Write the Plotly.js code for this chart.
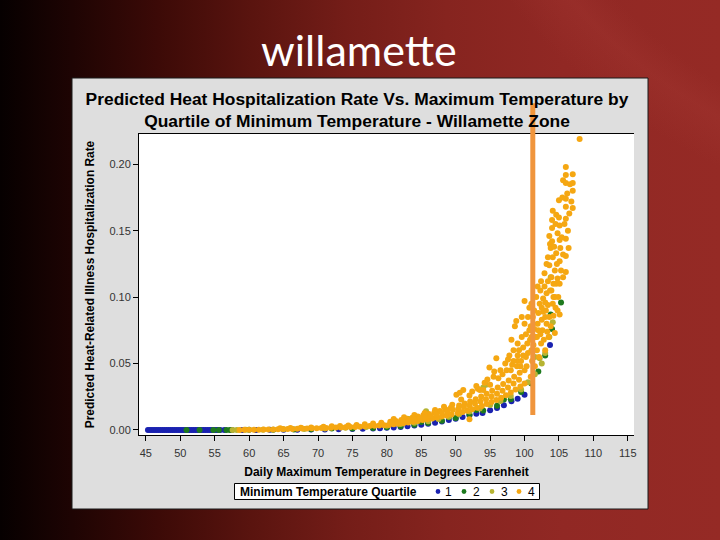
<!DOCTYPE html>
<html>
<head>
<meta charset="utf-8">
<script src="https://cdn.plot.ly/plotly-3.0.1.min.js"></script>
<style>
html,body{margin:0;padding:0;}
body{width:720px;height:540px;overflow:hidden;
background:
 radial-gradient(ellipse 900px 700px at 1050px -250px, rgba(150,42,38,0) 60%, rgba(170,60,55,0.25) 64%, rgba(150,42,38,0) 70%),
 linear-gradient(90deg,#060000 0%,#1e0403 10%,#3c0a07 22%,#5a140f 35%,#741d18 48%,#86241f 62%,#912824 78%,#952a25 100%);}
#chart{width:720px;height:540px;}
</style>
</head>
<body>
<div id="chart"></div>
<script>
// ---- data ----
const quartiles = ['1','2','3','4'];
const legendTitle = 'Minimum Temperature Quartile';

const q1Temp = [45.3,45.6,45.9,46.2,46.5,46.8,47.1,47.4,47.7,48.0,48.3,48.6,48.9,49.2,49.5,49.8,50.1,50.4,
  50.7,51.0,51.3,51.6,51.9,52.2,52.5,52.8,53.1,53.4,53.7,54.0,54.3,54.6,54.9,55.2,55.5,55.8,
  56.4,57.5,59.0,61.0,63.0,65.0,67.0,69.0,71.0,73.0,75.0,76.5,78.0,79.0,80.0,81.0,82.0,83.0,
  84.0,85.0,86.0,87.0,88.0,89.0,90.0,91.0,92.0,93.0,93.9,95.0,96.0,97.0,98.1,99.0,100.0,103.7];
const q1Rate = [0,0,0,0,0,0,0,0,0,0,0,0,0,0,0,0,0,0,
  0,0,0,0,0,0,0,0,0,0,0,0,0,0,0,0,0,0,
  0,0,0,0,0.0001,0.0001,0.0002,0.0003,0.0004,0.0005,0.0007,0.0009,0.0011,0.0013,0.0016,0.0019,0.0023,0.0028,
  0.0034,0.0040,0.0047,0.0055,0.0064,0.0074,0.0085,0.0097,0.0110,0.0122,0.0127,0.0148,0.0166,0.0186,0.0216,0.0235,0.0265,0.0640];

const q2Temp = [50.9,52.8,54.8,55.6,56.7,57.2,60.0,63.5,66.5,69.0,72.0,75.0,78.0,80.0,82.0,84.0,85.0,
  86.0,88.0,89.0,90.0,92.0,93.0,94.0,96.0,97.0,98.0,99.5,101.0,102.0,103.0,103.8,104.0,105.3];
const q2Rate = [0,0,0,0,0,0,0.0001,0.0002,0.0003,0.0005,0.0010,0.0010,0.0015,0.0020,0.0028,0.0040,0.0060,
  0.0053,0.0070,0.0095,0.0090,0.0116,0.0150,0.0146,0.0182,0.0230,0.0232,0.0285,0.0350,0.0440,0.0560,0.0870,0.0760,0.0960];

const q3Temp = [57.6,58.2,59.5,62.0,65.0,68.0,71.0,74.0,77.0,80.0,82.0,83.0,83.3,84.0,85.7,86.0,87.5,89.0,
  90.5,92.0,93.5,94.0,94.4,95.0,96.5,98.0,99.5,100.5,101.5,101.5,102.2,102.5,103.0,103.6,103.8,104.1];
const q3Rate = [0,0,0.0001,0.0002,0.0005,0.0007,0.0011,0.0016,0.0023,0.0032,0.0044,0.0085,0.0080,0.0054,0.0140,0.0066,0.0082,0.0100,
  0.0118,0.0138,0.0162,0.0320,0.0340,0.0188,0.0218,0.0255,0.0305,0.0360,0.0550,0.0420,0.0540,0.0500,0.0580,0.0700,0.1150,0.0810];

const q4Temp = [58.6,59.3,60.0,60.7,61.4,62.1,62.8,63.5,64.2,64.9,65.6,66.3,67.0,67.7,68.4,69.1,69.8,
  64.5,66.0,67.5,69.0,
  70.5,71.2,71.9,72.6,73.3,74.0,74.7,75.4,76.1,76.8,77.5,78.2,78.9,79.6,
  70.8,72.0,73.2,74.4,75.6,76.8,78.0,79.2,
  80.3,81.0,81.7,82.4,83.1,83.8,84.5,85.2,85.9,86.6,87.3,88.0,88.7,89.4,
  80.5,81.3,82.1,82.9,83.7,84.5,85.3,86.1,86.9,87.7,88.5,89.3,
  81.0,82.5,84.0,85.5,87.0,88.3,89.5,
  80.8,81.6,82.4,83.2,84.0,84.8,
  90.1,90.6,91.1,
  90.3,91.0,91.7,92.4,93.1,93.8,94.5,95.2,95.9,96.6,97.3,98.0,98.7,99.4,
  90.5,91.3,92.1,92.9,93.7,94.5,95.3,96.1,96.9,97.7,98.5,99.3,
  85.6,86.4,87.2,88.0,88.8,89.6,90.4,91.2,92.0,92.8,93.6,94.4,95.2,96.0,96.8,97.6,98.4,99.2,
  90.8,92.0,93.0,93.5,94.2,94.9,95.5,95.9,96.5,97.2,97.8,98.1,98.6,98.8,99.2,99.6,
  92.4,93.2,94.0,94.6,95.0,95.6,96.2,96.8,97.4,97.6,98.2,98.4,99.0,99.0,99.4,99.8,100.0,99.6,
  92.0,
  100.0,100.0,100.0,100.2,100.4,100.7,100.7,100.9,101.0,101.2,
  101.5,101.6,101.9,101.9,102.1,102.2,102.4,102.4,102.6,102.7,
  102.7,102.9,103.0,103.2,103.2,103.4,103.4,103.5,103.6,103.6,
  103.6,103.8,103.9,103.9,104.0,104.0,104.1,104.1,104.1,104.4,
  104.4,104.4,104.6,104.6,104.6,104.8,104.8,105.0,105.1,105.1,
  105.1,105.1,105.1,105.2,105.6,106.0,106.0,106.0,106.0,106.0,
  106.0,106.0,106.0,106.0,106.5,107.0,107.0,107.0,107.0,108.0,
  98.0,98.4,98.9,99.0,99.5,99.8,100.3,100.5,100.8,101.1,101.3,101.4,101.8,101.8,102.3,102.5,102.8,103.1,103.3,103.8,104.2,104.5,
  100.2,100.5,100.9,101.0,101.4,101.7,102.0,102.3,102.5,102.9,
  103.0,103.2,103.4,103.7,103.7,104.0,104.2,104.3,104.5,104.7,
  104.9,105.0,105.3,105.4,105.5,105.6,105.8,106.2,106.3,106.6,
  106.8,104.8,104.2,103.0,102.0,101.0,105.6,106.4];
const q4Rate = [0.0000,0.0001,0.0001,0.0002,0.0002,0.0003,0.0003,0.0004,0.0006,0.0007,0.0008,0.0008,0.0009,0.0010,0.0011,0.0012,0.0013,
  0.0013,0.0015,0.0016,0.0018,
  0.0014,0.0015,0.0017,0.0018,0.0019,0.0021,0.0022,0.0023,0.0025,0.0027,0.0029,0.0031,0.0033,0.0035,
  0.0024,0.0027,0.0030,0.0034,0.0038,0.0043,0.0048,0.0055,
  0.0038,0.0042,0.0046,0.0051,0.0056,0.0062,0.0068,0.0074,0.0080,0.0087,0.0094,0.0101,0.0109,0.0117,
  0.0062,0.0068,0.0075,0.0083,0.0092,0.0101,0.0110,0.0120,0.0131,0.0142,0.0155,0.0168,
  0.0082,0.0095,0.0112,0.0128,0.0150,0.0175,0.0190,
  0.0050,0.0056,0.0062,0.0068,0.0078,0.0088,
  0.0265,0.0280,0.0300,
  0.0125,0.0135,0.0145,0.0155,0.0168,0.0180,0.0195,0.0210,0.0226,0.0243,0.0262,0.0282,0.0304,0.0327,
  0.0185,0.0200,0.0215,0.0232,0.0252,0.0272,0.0295,0.0320,0.0345,0.0372,0.0400,0.0430,
  0.0095,0.0105,0.0115,0.0128,0.0140,0.0153,0.0160,0.0172,0.0185,0.0200,0.0215,0.0232,0.0252,0.0272,0.0295,0.0320,0.0350,0.0378,
  0.0230,0.0260,0.0330,0.0300,0.0355,0.0470,0.0400,0.0540,0.0450,0.0500,0.0560,0.0680,0.0780,0.0820,0.0600,0.0700,
  0.0290,0.0310,0.0300,0.0380,0.0340,0.0440,0.0390,0.0420,0.0450,0.0530,0.0490,0.0600,0.0520,0.0650,0.0480,0.0560,0.0800,0.0850,
  0.0080,
  0.0970,0.0350,0.0450,0.0550,0.0650,0.0920,0.0750,0.0400,0.0600,0.0850,
  0.0480,0.0700,0.1080,0.0800,0.0550,0.0950,0.1120,0.0650,0.0750,0.0990,
  0.0890,0.1180,0.0600,0.1030,0.0800,0.1120,0.0940,0.0700,0.1460,0.1240,
  0.0850,0.1370,0.1150,0.1050,0.1580,0.1520,0.1650,0.1300,0.0950,0.1200,
  0.1000,0.0730,0.1620,0.1330,0.1100,0.1480,0.1140,0.1730,0.1540,0.1430,
  0.1270,0.1100,0.0870,0.1370,0.1880,0.1980,0.1920,0.1860,0.1740,0.1680,
  0.1590,0.1440,0.1310,0.1190,0.1630,0.1925,0.1860,0.1800,0.1670,0.2190,
  0.0450,0.0520,0.0480,0.0560,0.0520,0.0620,0.0480,0.0580,0.0680,0.0520,0.0640,0.0760,0.0600,0.0700,0.0720,0.0830,0.0680,0.0900,0.0740,0.0780,0.0860,0.0920,
  0.0720,0.0850,0.0780,0.0950,0.0900,0.1000,0.0880,0.1050,0.0920,0.1080,
  0.0960,0.1250,0.1300,0.1400,0.1050,0.1420,0.1100,0.1380,0.1550,0.1250,
  0.1000,0.1600,0.1200,0.1450,0.1750,0.1320,0.1550,0.1780,0.1500,0.1850,
  0.1720,0.0900,0.1000,0.0850,0.0750,0.0700,0.1150,0.1370];

// vertical reference line: temperature and its rate extent
const refTemp = [101.2];
const refRate = [0.0113, 0.246];

const xTicks = [45,50,55,60,65,70,75,80,85,90,95,100,105,110,115];
const yTicks = [0.00,0.05,0.10,0.15,0.20];
const yTickText = ['0.00','0.05','0.10','0.15','0.20'];

// ---- styling ----
const colors = ['#1a22b0','#1e7a1e','#b6b432','#f5a712'];
const W = 720, H = 540, L = 139, R = 86, T = 134, B = 105;
const pw = W - L - R, ph = H - T - B;
const px = p => (p - L) / pw;
const py = p => (H - B - p) / ph;
const yRange = [-0.0038, 0.2228];
const yFrac = v => (v - yRange[0]) / (yRange[1] - yRange[0]);
const ff = '"Liberation Sans", Arial, sans-serif';

const temps = [q1Temp,q2Temp,q3Temp,q4Temp];
const rates = [q1Rate,q2Rate,q3Rate,q4Rate];
const traces = quartiles.map((q,i) => ({
  type:'scatter', mode:'markers', name:q,
  x:temps[i], y:rates[i],
  marker:{color:colors[i], size:6, line:{width:0}},
  cliponaxis:false
}));

// legend box (drawn as shapes + annotations to match the compact original key)
const legY = 491.5;
const legDotX = [438, 464, 492, 519];
const legTxtX = [448, 476, 504, 531];
const legendShapes = [
  {type:'rect', xref:'paper', yref:'paper', x0:px(234.5), x1:px(539.5), y0:py(499.5), y1:py(483.5),
   fillcolor:'#ffffff', line:{color:'#000', width:1}, layer:'above'}
].concat(quartiles.map((q,i) => ({
  type:'circle', xref:'paper', yref:'paper',
  x0:px(legDotX[i]-2.4), x1:px(legDotX[i]+2.4), y0:py(legY+2.4), y1:py(legY-2.4),
  fillcolor:colors[i], line:{width:0}, layer:'above'
})));
const legendAnn = [
  {text:'<b>'+legendTitle+'</b>', xref:'paper', yref:'paper', x:px(238), y:py(legY), xanchor:'left', yanchor:'middle',
   showarrow:false, font:{family:ff, size:12, color:'#000'}}
].concat(quartiles.map((q,i) => ({
  text:q, xref:'paper', yref:'paper', x:px(legTxtX[i]), y:py(legY), xanchor:'center', yanchor:'middle',
  showarrow:false, font:{family:ff, size:12, color:'#000'}
})));

const layout = {
  width:W, height:H,
  margin:{l:L, r:R, t:T, b:B},
  paper_bgcolor:'rgba(0,0,0,0)',
  plot_bgcolor:'rgba(0,0,0,0)',
  title:{
    text:'<b>Predicted Heat Hospitalization Rate Vs. Maximum Temperature by<br>Quartile of Minimum Temperature - Willamette Zone</b>',
    font:{family:ff, size:17.4, color:'#000'},
    x:357/W, xanchor:'center', y:1-104.5/H, yanchor:'middle'
  },
  xaxis:{
    range:[44.0,115.9], tickvals:xTicks, ticks:'outside', ticklen:5, tickcolor:'#000',
    showline:true, linecolor:'#000', linewidth:1, mirror:true, showgrid:false, zeroline:false,
    tickfont:{family:ff, size:11, color:'#333'}, ticklabelstandoff:3,
    title:{text:'<b>Daily Maximum Temperature in Degrees Farenheit</b>', font:{family:ff, size:12, color:'#000'}, standoff:9}
  },
  yaxis:{
    range:yRange, tickvals:yTicks, ticktext:yTickText, ticks:'outside', ticklen:5, tickcolor:'#000',
    showline:true, linecolor:'#000', linewidth:1, showgrid:false, zeroline:false,
    tickfont:{family:ff, size:11, color:'#333'},
    title:{text:'<b>Predicted Heat-Related Illness Hospitalization Rate</b>', font:{family:ff, size:11.9, color:'#000'}, standoff:12}
  },
  showlegend:false,
  shapes:[
    {type:'rect', xref:'paper', yref:'paper', x0:px(72), x1:px(648), y0:py(509), y1:py(78),
     fillcolor:'#dedede', line:{color:'#1a1a1a', width:1}, layer:'below'},
    {type:'rect', xref:'paper', yref:'paper', x0:0, x1:1, y0:0, y1:1,
     fillcolor:'#ffffff', line:{width:0}, layer:'below'},
    {type:'line', xref:'x', yref:'paper', x0:refTemp[0], x1:refTemp[0], y0:yFrac(refRate[0]), y1:yFrac(refRate[1]),
     line:{color:'#f0953c', width:5}, layer:'above'}
  ].concat(legendShapes),
  annotations:[
    {text:'willamette', xref:'paper', yref:'paper', x:px(359), y:py(50), xanchor:'center', yanchor:'middle',
     showarrow:false, font:{family:'Lato, "Open Sans", sans-serif', size:43, color:'#ffffff'}}
  ].concat(legendAnn)
};

Plotly.newPlot('chart', traces, layout, {displayModeBar:false, staticPlot:true});
</script>
</body>
</html>
